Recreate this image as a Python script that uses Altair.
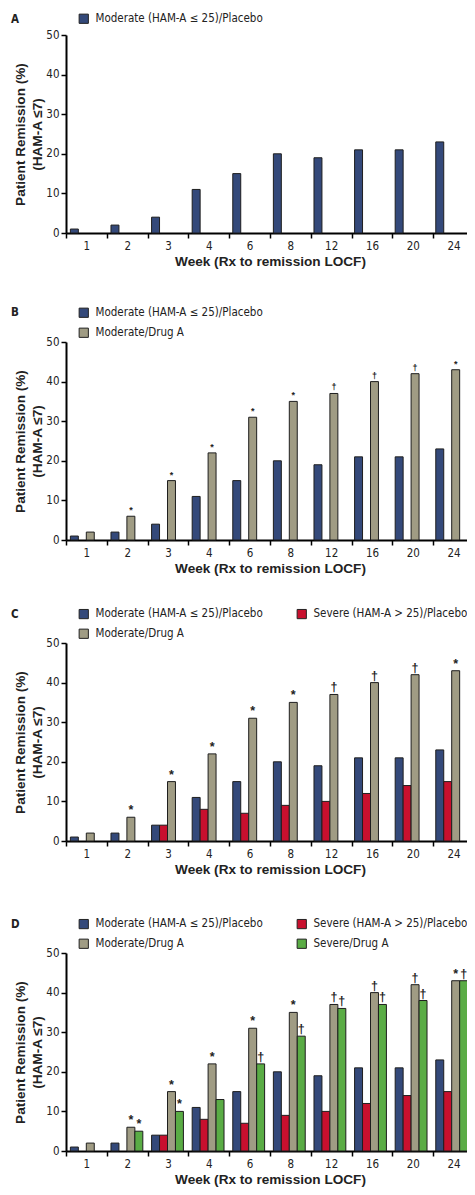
import altair as alt
import pandas as pd

# ---- data ----
weeks = ["1", "2", "3", "4", "6", "8", "12", "16", "20", "24"]
mod_placebo = [1, 2, 4, 11, 15, 20, 19, 21, 21, 23]
sev_placebo = [None, None, 4, 8, 7, 9, 10, 12, 14, 15]
mod_drug = [2, 6, 15, 22, 31, 35, 37, 40, 42, 43]
sev_drug = [None, 5, 10, 13, 22, 29, 36, 37, 38, 43]
mod_drug_sig = ["", "*", "*", "*", "*", "*", "†", "†", "†", "*"]
sev_drug_sig = ["", "*", "*", "", "†", "†", "†", "†", "†", "†"]

SERIES = [
    "Moderate (HAM-A ≤ 25)/Placebo",
    "Severe (HAM-A > 25)/Placebo",
    "Moderate/Drug A",
    "Severe/Drug A",
]
COLORS = ["#34497a", "#c8102e", "#a09c84", "#5aac45"]
LEGEND_ORDER = [SERIES[0], SERIES[2], SERIES[1], SERIES[3]]
VALUES = {SERIES[0]: mod_placebo, SERIES[1]: sev_placebo,
          SERIES[2]: mod_drug, SERIES[3]: sev_drug}
SIGS = {SERIES[2]: mod_drug_sig, SERIES[3]: sev_drug_sig}

NARROW = "'DejaVu Sans Condensed', 'Liberation Sans Narrow', sans-serif"
BOLD = "'Liberation Sans', Arial, sans-serif"
INK = "#222222"
H = 198


def make_df(keys):
    rows = []
    for k in keys:
        for i, w in enumerate(weeks):
            v = VALUES[k][i]
            if v is None:
                continue
            rows.append(dict(week=w, series=k, value=v,
                             sig=SIGS.get(k, [""] * len(weeks))[i]))
    return pd.DataFrame(rows)


def panel(letter, keys, columns, legend_y, letter_y, sig_size, top_ext, bottom_ext):
    df = make_df(keys)
    present = [s for s in LEGEND_ORDER if s in keys]
    cols = [COLORS[SERIES.index(s)] for s in present]

    xs = alt.X("week:N", sort=weeks,
               scale=alt.Scale(domain=weeks, range=[0, 406],
                               paddingInner=0, paddingOuter=0),
               axis=None)
    xo = alt.XOffset("series:N", sort=SERIES,
                     scale=alt.Scale(domain=SERIES, paddingInner=0, paddingOuter=0.55))
    ys = alt.Y("value:Q", scale=alt.Scale(domain=[0, 50]),
               axis=alt.Axis(values=[0, 10, 20, 30, 40, 50],
                             title=["Patient Remission (%)", "(HAM-A ≤7)"],
                             titleFont=BOLD, titleFontSize=13.6, titleFontWeight="bold",
                             titleColor=INK, titleLineHeight=17, titlePadding=1,
                             labelFont=NARROW, labelFontSize=11.5, labelColor=INK,
                             labelPadding=2, tickSize=5, tickColor="#000", tickWidth=1.5,
                             domainColor="#000", domainWidth=2, grid=False))

    base = alt.Chart(df)
    bars = base.mark_bar(stroke="#1e1e1e", strokeWidth=1).encode(
        x=xs, xOffset=xo, y=ys,
        color=alt.Color("series:N", sort=present,
                        scale=alt.Scale(domain=present, range=cols),
                        legend=alt.Legend(title=None, orient="none", legendX=12,
                                          legendY=legend_y, columns=columns,
                                          symbolType="square", symbolSize=85,
                                          symbolStrokeColor="#222", symbolStrokeWidth=1,
                                          labelFont=NARROW, labelFontSize=11.5,
                                          labelColor=INK, labelOffset=6,
                                          rowPadding=6, columnPadding=32,
                                          padding=0, labelLimit=400)),
    )
    txt = base.transform_filter("datum.sig != ''").mark_text(
        baseline="alphabetic", dy=-3, fontSize=sig_size, font=BOLD,
        fontWeight="bold", color=INK
    ).encode(x=xs, xOffset=xo, y=ys, text="sig:N")
    lab = alt.Chart(pd.DataFrame({"t": [letter]})).mark_text(
        align="left", baseline="middle", fontWeight="bold", fontSize=11.5,
        font=NARROW, color=INK
    ).encode(x=alt.value(-55), y=alt.value(letter_y), text="t:N")
    # invisible frame that fixes the panel's outer extent (layout spacing)
    frame = alt.Chart(pd.DataFrame({"t": [letter]})).mark_rect(
        fillOpacity=0, strokeOpacity=0
    ).encode(x=alt.value(-57), x2=alt.value(500),
             y=alt.value(-top_ext), y2=alt.value(H + bottom_ext))

    inner = alt.layer(bars, txt, lab, frame)

    axis_layer = alt.Chart(pd.DataFrame({"week": weeks})).mark_point(opacity=0).encode(
        x=alt.X("week:N", sort=weeks,
                scale=alt.Scale(domain=weeks, paddingInner=0, paddingOuter=0),
                axis=alt.Axis(title="Week (Rx to remission LOCF)", tickBand="extent",
                              labelAngle=0, titleFont=BOLD, titleFontSize=13.6,
                              titleFontWeight="bold", titleColor=INK, titlePadding=3,
                              labelFont=NARROW, labelFontSize=11.5, labelColor=INK,
                              labelPadding=2, tickSize=5, tickColor="#000",
                              tickWidth=1.5, domainColor="#000", domainWidth=2,
                              grid=False))
    )
    return alt.layer(inner, axis_layer).resolve_scale(x="independent").properties(
        width=408, height=H)


pA = panel("A", [SERIES[0]], 1, -22, -15, 12, 27, 42)
pB = panel("B", [SERIES[0], SERIES[2]], 1, -35, -29, 9, 67, 42)
pC = panel("C", [SERIES[0], SERIES[1], SERIES[2]], 2, -35, -28, 12.5, 61, 42)
pD = panel("D", SERIES, 2, -35, -28, 12.5, 70, 42)

chart = alt.concat(pA, pB, pC, pD, columns=1, spacing=0, align="none").resolve_scale(
    x="independent", y="independent", color="independent", xOffset="independent"
).resolve_legend(color="independent").properties(
    padding={"left": 1, "top": 0, "right": -99, "bottom": -6},
).configure_view(stroke=None)

chart.save("out.html", embed_options={"renderer": "svg", "actions": False})
